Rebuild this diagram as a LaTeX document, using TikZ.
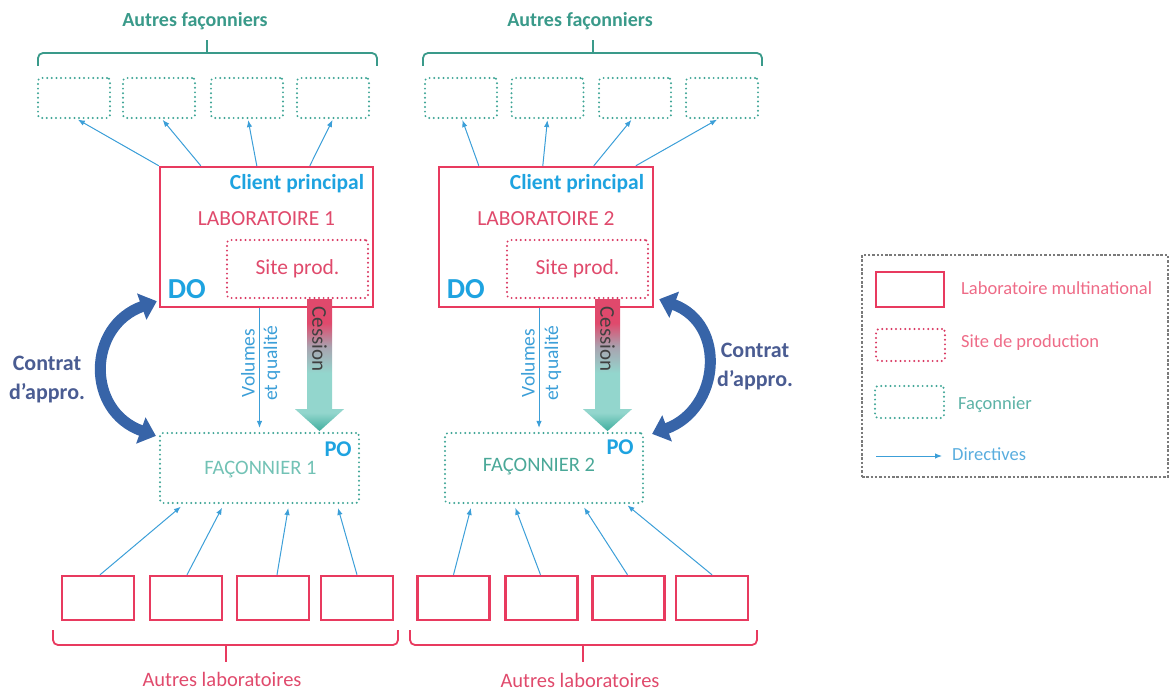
\documentclass[tikz,border=0pt]{standalone}
\usepackage{fontspec}
\setmainfont{Carlito}
\usetikzlibrary{arrows.meta,calc}
\definecolor{labred}{HTML}{E83A5F}
\definecolor{labtext}{HTML}{E04A6C}
\definecolor{sitered}{HTML}{D93660}
\definecolor{facteal}{HTML}{3FA596}
\definecolor{brteal}{HTML}{3A9A8A}
\definecolor{fac1text}{HTML}{72C2B5}
\definecolor{fac2text}{HTML}{4AA898}
\definecolor{cblue}{HTML}{1EA3E0}
\definecolor{dirblue}{HTML}{3C9FD8}
\definecolor{contrblue}{HTML}{3764A8}
\definecolor{contrtext}{HTML}{4A5C92}
\definecolor{cpink}{HTML}{E0496C}
\definecolor{cmid}{HTML}{A9A2AF}
\definecolor{cteal}{HTML}{93D6CD}
\definecolor{ctealdk}{HTML}{3FAE9E}
\definecolor{leggray}{HTML}{7A7A7A}
\pgfdeclareverticalshading{cession}{100bp}{color(0bp)=(ctealdk); color(25bp)=(ctealdk); color(32bp)=(cteal); color(47bp)=(cteal); color(57bp)=(cmid); color(66bp)=(cpink); color(100bp)=(cpink)}
\begin{document}
\begin{tikzpicture}[x=1pt,y=-1pt,
  lab/.style={draw=labred, line width=2.4pt, fill=white, inner sep=0pt, minimum width=72pt, minimum height=44pt},
  fac/.style={draw=facteal, line width=2.2pt, line cap=round, dash pattern=on 0pt off 4.6pt, rounded corners=3pt, inner sep=0pt, minimum width=72pt, minimum height=40pt},
  site/.style={draw=sitered, line width=2.2pt, line cap=round, dash pattern=on 0pt off 4.6pt, rounded corners=3pt, fill=white, inner sep=0pt},
  dirarr/.style={draw=dirblue, line width=1pt, -{Latex[length=7pt,width=5.5pt]}},
  contr/.style={draw=contrblue, line width=11pt, {Triangle[length=16pt,width=27pt]}-{Triangle[length=16pt,width=27pt]}},
  brkteal/.style={draw=brteal, line width=1.8pt, rounded corners=5pt},
  brkred/.style={draw=labred, line width=1.8pt, rounded corners=5pt},
  hdrteal/.style={text=brteal, font=\fontsize{20}{24}\selectfont\bfseries},
  hdrred/.style={text=labtext, font=\fontsize{20.5}{24}\selectfont},
  client/.style={text=cblue, font=\fontsize{21.5}{25}\selectfont\bfseries, anchor=east, inner sep=0pt},
  labname/.style={text=labtext, font=\fontsize{21.5}{25}\selectfont, inner sep=0pt},
  bigblue/.style={text=cblue, font=\fontsize{29}{33}\selectfont\bfseries, inner sep=0pt},
  poblue/.style={text=cblue, font=\fontsize{22.5}{26}\selectfont\bfseries, inner sep=0pt},
  vol/.style={text=dirblue, font=\fontsize{19.5}{22}\selectfont, rotate=90, inner sep=0pt},
  cesstext/.style={text=black!75, font=\fontsize{21}{24}\selectfont, rotate=-90, inner sep=0pt},
  contrlbl/.style={text=contrtext, font=\fontsize{22}{29}\selectfont\bfseries, align=center, inner sep=0pt},
  legtext/.style={anchor=west, font=\fontsize{18.5}{22}\selectfont, inner sep=0pt}
]
\useasboundingbox (0,0) rectangle (1169,690);

% ---------- headers and brackets (top) ----------
\node[hdrteal] (hf1) at (195,21) {Autres façonniers};
\node[hdrteal] (hf2) at (580,21) {Autres façonniers};
\draw[brkteal] (38,66) -- (38,53) -- (377,53) -- (377,66);
\draw[brteal, line width=1.8pt] (207,53) -- (207,40);
\draw[brkteal] (423,66) -- (423,53) -- (762,53) -- (762,66);
\draw[brteal, line width=1.8pt] (593,53) -- (593,40);

% ---------- top façonnier boxes ----------
\node[fac] (ft1) at (74,98) {};
\node[fac] (ft2) at (159,98) {};
\node[fac] (ft3) at (247,98) {};
\node[fac] (ft4) at (333,98) {};
\node[fac] (ft5) at (461,98) {};
\node[fac] (ft6) at (547.5,98) {};
\node[fac] (ft7) at (635,98) {};
\node[fac] (ft8) at (722,98) {};

% ---------- laboratories ----------
\node[lab, minimum width=213pt, minimum height=140pt] (lab1) at (266.5,237) {};
\node[lab, minimum width=214pt, minimum height=140pt] (lab2) at (546,237) {};
\node[site, minimum width=141pt, minimum height=58pt, text=labtext, font=\fontsize{21.5}{25}\selectfont] (site1) at (297.5,269) {Site prod.};
\node[site, minimum width=141pt, minimum height=58pt, text=labtext, font=\fontsize{21.5}{25}\selectfont] (site2) at (577.5,269) {Site prod.};
\node[client] (cp1) at ([xshift=-10pt,yshift=-18pt]lab1.north east) {Client principal};
\node[client] (cp2) at ([xshift=-10pt,yshift=-18pt]lab2.north east) {Client principal};
\node[labname] (ln1) at ([yshift=-53pt]lab1.north) {LABORATOIRE 1};
\node[labname] (ln2) at ([yshift=-53pt]lab2.north) {LABORATOIRE 2};
\node[bigblue] (do1) at ([xshift=28pt,yshift=19pt]lab1.south west) {DO};
\node[bigblue] (do2) at ([xshift=28pt,yshift=19pt]lab2.south west) {DO};

% ---------- façonniers 1 and 2 ----------
\node[fac, minimum width=199pt, minimum height=70pt] (fac1) at (259.5,468) {};
\node[fac, minimum width=198pt, minimum height=70pt] (fac2) at (544,468) {};
\node[text=fac1text, font=\fontsize{20.5}{24}\selectfont, inner sep=0pt] (fn1) at ([xshift=1pt,yshift=-2pt]fac1.center) {FAÇONNIER 1};
\node[text=fac2text, font=\fontsize{20.5}{24}\selectfont, inner sep=0pt] (fn2) at ([xshift=-5pt,yshift=1pt]fac2.center) {FAÇONNIER 2};
\node[poblue] (po1) at ([xshift=-22pt,yshift=-17pt]fac1.north east) {PO};
\node[poblue] (po2) at ([xshift=-24pt,yshift=-15pt]fac2.north east) {PO};

% ---------- cession arrows ----------
\coordinate (c1) at ([xshift=22pt]site1.south);
\coordinate (c2) at ([xshift=30pt]site2.south);
\foreach \c in {c1,c2}{
  \shade[shading=cession] ($(\c)+(-12.5,0)$) -- ($(\c)+(12.5,0)$) -- ($(\c)+(12.5,110)$) -- ($(\c)+(24.5,110)$) -- ($(\c)+(0,132)$) -- ($(\c)+(-24.5,110)$) -- ($(\c)+(-12.5,110)$) -- cycle;
}
\node[cesstext] (ce1) at ($(c1)+(0,40)$) {Cession};
\node[cesstext] (ce2) at ($(c2)+(0,40)$) {Cession};

% ---------- volumes et qualité ----------
\draw[dirarr, shorten >=4pt] (lab1.south -| fac1.north) -- (fac1.north);
\draw[dirarr, shorten >=4pt] ([xshift=-5pt]fac2.north |- lab2.south) -- ([xshift=-5pt]fac2.north);
\node[vol] (v1a) at (248,363) {Volumes};
\node[vol] (v1b) at (272,363) {et qualité};
\node[vol] (v2a) at (528,363) {Volumes};
\node[vol] (v2b) at (553,363) {et qualité};

% ---------- directives to top façonniers ----------
\draw[dirarr, shorten >=1pt] (lab1.north west) -- ([xshift=3pt]ft1.south);
\draw[dirarr, shorten >=1pt] ([xshift=42pt]lab1.north west) -- ([xshift=3pt]ft2.south);
\draw[dirarr, shorten >=1pt] ([xshift=98pt]lab1.north west) -- ([xshift=1pt]ft3.south);
\draw[dirarr, shorten >=1pt] ([xshift=151pt]lab1.north west) -- (ft4.south);
\draw[dirarr, shorten >=1pt] ([xshift=41pt]lab2.north west) -- ([xshift=1pt]ft5.south);
\draw[dirarr, shorten >=1pt] ([xshift=105pt]lab2.north west) -- (ft6.south);
\draw[dirarr, shorten >=1pt] ([xshift=156pt]lab2.north west) -- ([xshift=-3pt]ft7.south);
\draw[dirarr, shorten >=1pt] ([xshift=198pt]lab2.north west) -- ([xshift=-4pt]ft8.south);

% ---------- bottom laboratories ----------
\node[lab] (bl1) at (98,598) {};
\node[lab] (bl2) at (186,598) {};
\node[lab] (bl3) at (273,598) {};
\node[lab] (bl4) at (357,598) {};
\node[lab] (bl5) at (453.5,598) {};
\node[lab] (bl6) at (541.5,598) {};
\node[lab] (bl7) at (628.5,598) {};
\node[lab] (bl8) at (712,598) {};

\draw[dirarr, shorten >=4pt] ([xshift=2pt]bl1.north) -- ([xshift=25pt]fac1.south west);
\draw[dirarr, shorten >=4pt] ([xshift=1pt]bl2.north) -- ([xshift=65pt]fac1.south west);
\draw[dirarr, shorten >=4pt] ([xshift=4pt]bl3.north) -- ([xshift=130pt]fac1.south west);
\draw[dirarr, shorten >=4pt] (bl4.north) -- ([xshift=178pt]fac1.south west);
\draw[dirarr, shorten >=4pt] (bl5.north) -- ([xshift=28pt]fac2.south west);
\draw[dirarr, shorten >=4pt] ([xshift=-1pt]bl6.north) -- ([xshift=70pt]fac2.south west);
\draw[dirarr, shorten >=4pt] ([xshift=-1pt]bl7.north) -- ([xshift=138pt]fac2.south west);
\draw[dirarr, shorten >=2pt] (bl8.north) -- ([xshift=182pt]fac2.south west);

\draw[brkred] (53,630) -- (53,645) -- (398,645) -- (398,630);
\draw[labred, line width=1.8pt] (226,645) -- (226,662);
\draw[brkred] (410,630) -- (410,645) -- (757,645) -- (757,630);
\draw[labred, line width=1.8pt] (583,645) -- (583,662);
\node[hdrred] (al1) at (222,679) {Autres laboratoires};
\node[hdrred] (al2) at (580,680) {Autres laboratoires};

% ---------- contrat d'appro ----------
\draw[contr] ([xshift=-2pt,yshift=7pt]lab1.south west) .. controls +(-70,25) and +(-70,-25) .. ([xshift=-3pt,yshift=-4pt]fac1.north west);
\draw[contr] ([xshift=5pt,yshift=9pt]lab2.south east) .. controls +(68,25) and +(68,-25) .. ([xshift=8pt,yshift=-2pt]fac2.north east);
\node[contrlbl] (ct1) at (47,380) {Contrat\\d’appro.};
\node[contrlbl] (ct2) at (755,367) {Contrat\\d’appro.};

% ---------- legend ----------
\node[draw=leggray, line width=1.2pt, dash pattern=on 2.5pt off 1.8pt, minimum width=306pt, minimum height=222pt, inner sep=0pt] (leg) at (1015,366) {};
\node[lab, minimum width=68pt, minimum height=35pt] (lg1) at (910,289.5) {};
\node[site, minimum width=69pt, minimum height=32pt] (lg2) at (910.5,345) {};
\node[fac, minimum width=69pt, minimum height=32pt] (lg3) at (909.5,402) {};
\coordinate (lg4a) at (876,456);
\coordinate (lg4b) at (942,456);
\draw[dirarr] (lg4a) -- (lg4b);
\node[legtext, text=labred!75] (lt1) at (961,288) {Laboratoire multinational};
\node[legtext, text=labred!75] (lt2) at (961,343) {Site de production};
\node[legtext, text=facteal!85] (lt3) at (958,405) {Façonnier};
\node[legtext, text=dirblue!85] (lt4) at (952,454) {Directives};
\end{tikzpicture}
\end{document}
